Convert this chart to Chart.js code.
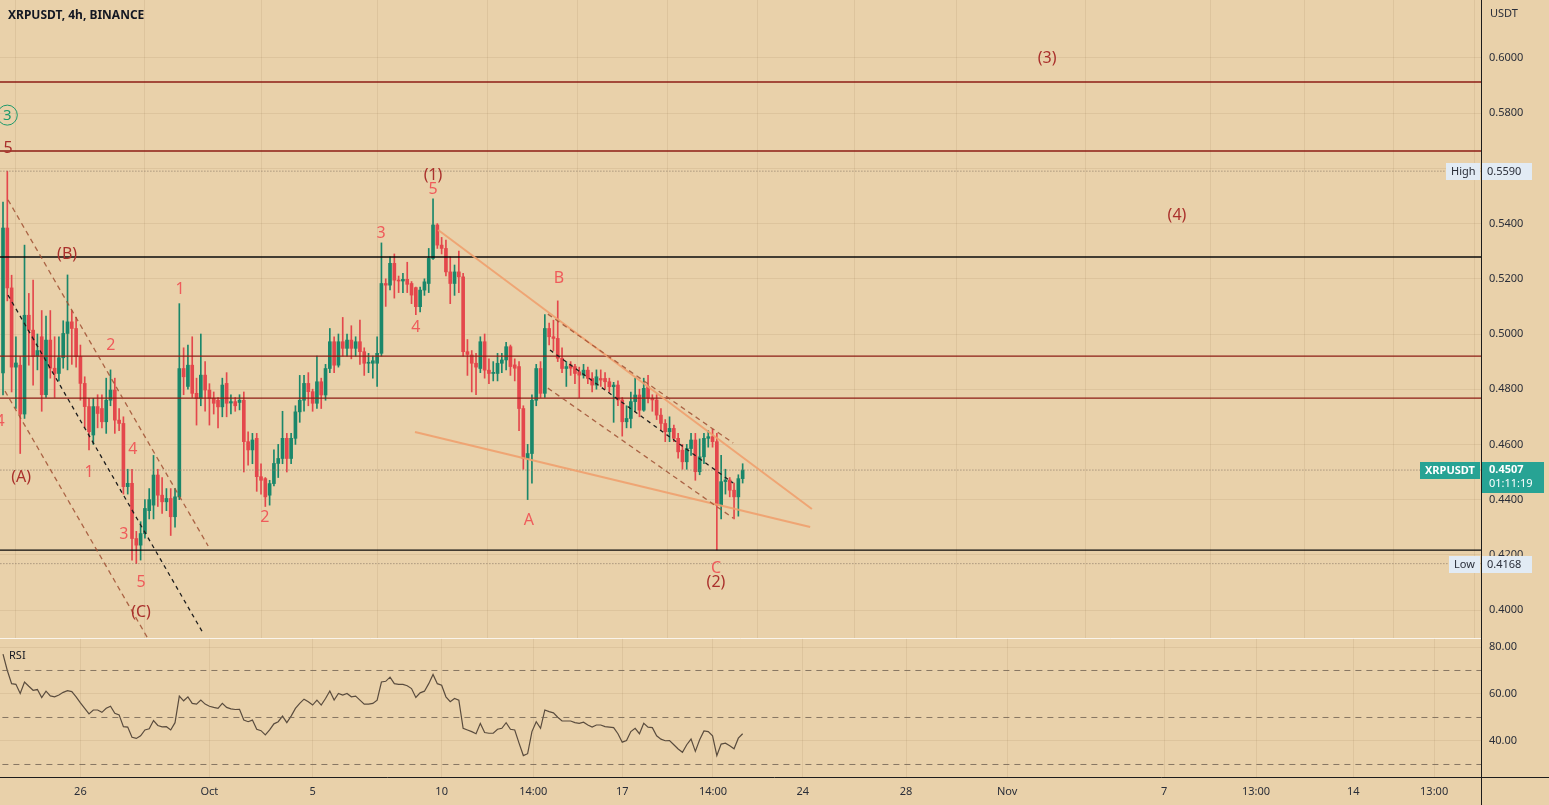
<!DOCTYPE html>
<html>
<head>
<meta charset="utf-8">
<title>XRPUSDT 4h</title>
<script src="https://cdn.jsdelivr.net/npm/chart.js@4.4.0/dist/chart.umd.min.js"></script>
<style>
  html, body { margin: 0; padding: 0; background: #e9d1aa; overflow: hidden; }
  #pricePane { position: absolute; left: 0; top: 0; width: 1549px; height: 638px; }
  #rsiPane { position: absolute; left: 0; top: 638px; width: 1549px; height: 167px; }
</style>
</head>
<body>
<div id="pricePane"><canvas id="priceChart"></canvas></div>
<div id="rsiPane"><canvas id="rsiChart"></canvas></div>
<script>
// 4h candles, XRPUSDT Binance, index 0 = first candle on screen
const opens = [
  .4859,.5384,.5167,.4880,.4887,.4710,.5068,.5014,.4920,.4990,
  .4780,.4978,.4876,.4857,.4914,.5002,.5044,.5020,.4918,.4821,
  .4737,.4634,.4737,.4730,.4682,.4760,.4797,.4688,.4676,.4447,
  .4459,.4259,.4235,.4277,.4360,.4380,.4489,.4416,.4392,.4404,
  .4338,.4410,.4875,.4810,.4887,.4785,.4767,.4851,.4797,.4767,
  .4760,.4736,.4821,.4750,.4755,.4752,.4760,
  .4610,.4580,.4622,.4483,.4476,.4416,.4458,.4531,.4549,.4622,
  .4549,.4622,.4718,.4760,.4821,.4791,.4749,.4827,.4779,.4875,
  .4972,.4887,.4972,.4948,.4978,.4948,.4972,.4936,.4894,.4894,
  .4894,.4930,.5183,.5177,.5256,.5195,.5192,.5198,.5183,.5168,
  .5099,.5159,.5183,.5274,.5395,.5322,.5310,.5225,.5183,.5225,
  .5207,.4936,.4924,.4894,.4875,.4972,.4869,
  .4857,.4857,.4894,.4906,.4954,.4888,.4882,.4730,.4549,.4567,
  .4760,.4875,.4785,.5020,.4990,.4984,.4912,.4875,.4888,.4882,
  .4863,.4851,.4869,.4839,.4815,.4839,.4839,.4827,.4809,.4815,
  .4761,.4682,.4694,.4755,.4779,.4724,.4809,.4767,.4761,.4706,
  .4676,.4646,.4658,.4622,.4579,.4537,.4585,.4616,.4501,.4555,
  .4622,.4628,.4610,.4380,.4465,.4471,.4434,.4410,.4476
];
const highs = [
  .5478,.5590,.5213,.4990,.4918,.5322,.5147,.5195,.5000,.5085,
  .5065,.5085,.4990,.4990,.5048,.5214,.5085,.5060,.4960,.4845,
  .4767,.4767,.4780,.4780,.4840,.4870,.4840,.4730,.4700,.4510,
  .4510,.4285,.4320,.4400,.4440,.4560,.4510,.4480,.4440,.4440,
  .4440,.5110,.4950,.4960,.4990,.4840,.5000,.4900,.4820,.4790,
  .4770,.4840,.4860,.4780,.4770,.4780,.4790,
  .4646,.4640,.4640,.4530,.4480,.4470,.4580,.4600,.4720,.4640,
  .4640,.4740,.4850,.4850,.4860,.4800,.4920,.4840,.4890,.5020,
  .4990,.5000,.5060,.5000,.5030,.4990,.5050,.4950,.4930,.4920,
  .4990,.5330,.5200,.5280,.5290,.5210,.5220,.5260,.5190,.5170,
  .5170,.5200,.5310,.5490,.5400,.5350,.5340,.5280,.5250,.5300,
  .5220,.4980,.4940,.4930,.4990,.5000,.4910,
  .4900,.4930,.4930,.4970,.4960,.4910,.4900,.4740,.4600,.4780,
  .4890,.4900,.5070,.5040,.5050,.5120,.4950,.4900,.4900,.4890,
  .4880,.4890,.4880,.4860,.4870,.4870,.4860,.4840,.4825,.4830,
  .4770,.4740,.4790,.4840,.4800,.4840,.4850,.4780,.4780,.4730,
  .4690,.4700,.4670,.4640,.4600,.4600,.4640,.4640,.4620,.4640,
  .4650,.4655,.4640,.4560,.4510,.4480,.4460,.4490,.4530
];
const lows = [
  .4779,.5120,.4790,.4730,.4567,.4694,.4887,.4815,.4870,.4720,
  .4770,.4840,.4770,.4830,.4876,.4870,.4890,.4880,.4760,.4660,
  .4580,.4600,.4660,.4660,.4640,.4740,.4640,.4650,.4420,.4420,
  .4181,.4168,.4181,.4260,.4330,.4330,.4375,.4350,.4360,.4270,
  .4300,.4400,.4780,.4800,.4770,.4670,.4740,.4720,.4670,.4710,
  .4660,.4700,.4700,.4710,.4720,.4725,.4500,
  .4525,.4530,.4430,.4420,.4375,.4380,.4450,.4480,.4530,.4500,
  .4530,.4600,.4680,.4720,.4740,.4720,.4730,.4730,.4760,.4860,
  .4860,.4880,.4920,.4920,.4910,.4920,.4890,.4850,.4860,.4840,
  .4810,.4920,.5100,.5160,.5130,.5150,.5150,.5150,.5110,.5070,
  .5080,.5140,.5150,.5270,.5310,.5290,.5210,.5110,.5140,.5150,
  .4920,.4850,.4790,.4780,.4860,.4840,.4820,
  .4830,.4830,.4860,.4870,.4850,.4830,.4650,.4510,.4400,.4460,
  .4740,.4770,.4770,.4960,.4940,.4900,.4860,.4810,.4850,.4820,
  .4770,.4840,.4820,.4790,.4800,.4810,.4800,.4790,.4680,.4740,
  .4630,.4660,.4660,.4720,.4700,.4720,.4750,.4720,.4690,.4650,
  .4610,.4610,.4610,.4550,.4510,.4510,.4560,.4470,.4490,.4530,
  .4590,.4590,.4218,.4330,.4420,.4410,.4330,.4340,.4460
];
const closes = [
  .5384,.5167,.4880,.4895,.4710,.5068,.5014,.4918,.4940,.4780,
  .4978,.4876,.4857,.4914,.5002,.5044,.5020,.4918,.4821,.4737,
  .4646,.4737,.4712,.4682,.4760,.4797,.4688,.4676,.4447,.4459,
  .4259,.4235,.4277,.4368,.4400,.4489,.4416,.4392,.4404,.4338,
  .4410,.4875,.4845,.4887,.4785,.4767,.4851,.4797,.4767,.4749,
  .4736,.4815,.4749,.4755,.4740,.4760,.4610,
  .4580,.4616,.4483,.4470,.4410,.4458,.4531,.4549,.4622,.4549,
  .4622,.4718,.4760,.4821,.4791,.4749,.4827,.4779,.4875,.4972,
  .4887,.4972,.4948,.4978,.4948,.4972,.4936,.4894,.4896,.4903,
  .4930,.5183,.5177,.5256,.5195,.5192,.5198,.5180,.5141,.5099,
  .5159,.5189,.5274,.5395,.5322,.5310,.5225,.5183,.5225,.5207,
  .4936,.4926,.4894,.4880,.4972,.4869,.4857,
  .4861,.4894,.4906,.4954,.4882,.4876,.4730,.4549,.4567,.4760,
  .4875,.4785,.5020,.4990,.4984,.4912,.4875,.4882,.4876,.4857,
  .4851,.4869,.4839,.4815,.4845,.4833,.4827,.4809,.4815,.4761,
  .4682,.4694,.4755,.4779,.4724,.4803,.4767,.4761,.4706,.4676,
  .4646,.4658,.4622,.4573,.4537,.4585,.4616,.4501,.4555,.4622,
  .4628,.4610,.4380,.4465,.4471,.4434,.4410,.4476,.4507
];
const rsi = [
  77.0,70.0,64.4,64.1,60.2,65.1,63.3,61.6,61.9,58.5,
  61.2,59.2,58.8,59.6,60.7,61.4,61.0,58.8,56.2,53.9,
  51.5,53.2,53.2,52.2,53.9,54.8,51.8,51.1,46.1,45.9,
  41.6,41.1,42.2,44.7,45.2,48.7,46.6,46.0,46.1,44.7,
  47.8,59.1,57.1,58.8,56.0,55.7,57.4,55.7,54.8,54.3,
  53.9,56.0,54.3,53.7,53.4,53.5,48.9,48.2,48.9,45.0,
  44.4,42.6,44.7,47.3,48.2,50.6,47.8,50.6,53.9,56.0,
  57.8,56.7,55.3,57.4,55.3,58.1,61.3,57.4,60.2,59.5,
  60.2,58.8,59.1,57.4,55.7,55.7,56.0,57.4,65.1,65.4,
  67.2,64.4,64.1,64.1,63.5,62.3,58.5,60.5,61.2,64.4,
  68.3,64.4,63.7,58.8,56.7,58.1,57.4,45.4,44.7,44.0,
  43.1,47.5,43.6,43.3,43.3,45.0,45.4,47.8,45.0,44.7,
  39.1,33.8,34.6,44.0,48.2,45.4,53.2,52.5,52.0,50.1,
  48.5,48.5,48.5,47.8,47.5,48.0,46.8,45.9,46.8,46.8,
  46.1,45.9,45.7,43.1,39.5,40.2,44.0,45.4,43.1,47.5,
  45.9,45.7,42.2,40.8,40.1,40.2,38.4,36.6,35.2,38.4,
  40.8,35.6,40.5,44.3,44.0,42.2,33.8,38.7,39.1,38.0,
  36.7,41.2,43.1
];

// time axis labels (position in candle units)
const tickPos = [18, 48, 72, 102, 123.3, 144, 165.1, 186, 210, 233.5, 270, 291.4, 314, 332.8];
const tickLabels = ["26", "Oct", "5", "10", "14:00", "17", "14:00", "24", "28", "Nov", "7", "13:00", "14", "13:00"];
const priceTicks = [0.40, 0.42, 0.44, 0.46, 0.48, 0.50, 0.52, 0.54, 0.56, 0.58, 0.60];
const rsiTicks = [40, 60, 80];
const rsiBands = [70, 50, 30];

// drawn levels
const redLevels = [0.5913, 0.5663, 0.4920, 0.4768];
const blackLevels = [0.5279, 0.4217];

// trend lines: [index1, price1, index2, price2]
const brownDashed = [[1.16, 0.5486, 47.7, 0.4232], [0.47, 0.4793, 33.5, 0.3902],
                     [126.7, 0.5072, 169.8, 0.4605], [126.7, 0.4804, 169.8, 0.4333]];
const blackDashed = [[1.16, 0.5141, 46.5, 0.3917], [127.2, 0.4942, 169.8, 0.4460]];
const wedgeLines = [[101.2, 0.5377, 188.1, 0.4366], [95.8, 0.4645, 187.7, 0.4301]];

// elliott wave labels
const waveText = ["3", "5", "(B)", "4", "(A)", "1", "2", "4", "3", "5", "(C)", "1", "2", "3", "4", "(1)", "5", "B", "A", "C", "(2)", "(3)", "(4)"];
const waveIdx = [1, 1.2, 14.9, -0.7, 4.2, 20, 25.1, 30.2, 28.1, 32.1, 32.1, 41.2, 60.9, 87.9, 96, 100, 100, 129.3, 122.3, 165.8, 165.8, 242.8, 273];
const wavePrice = [0.5793, 0.5674, 0.5290, 0.4685, 0.4482, 0.4500, 0.4957, 0.4580, 0.4272, 0.4101, 0.3990, 0.5160, 0.4337, 0.5366, 0.5022, 0.5576, 0.5525, 0.5203, 0.4326, 0.4152, 0.4101, 0.6000, 0.5431];
const waveDegree = [0, 1, 1, 2, 1, 2, 2, 2, 2, 2, 1, 2, 2, 2, 2, 1, 2, 2, 2, 2, 1, 1, 1];

const X_MIN = -0.7, X_MAX = 343.7;
const FONT = "'Noto Sans', 'Open Sans', sans-serif";
const BG = '#e9d1aa';
const UP = '#1a876a', DOWN = '#e4474c';
const GRID = 'rgba(120,90,50,0.10)';

Chart.defaults.font.family = FONT;
Chart.defaults.color = '#2a2e39';

const candleColors = closes.map((c, i) => c >= opens[i] ? UP : DOWN);

function hline(v, color, dash, width) {
  return {
    type: 'line', data: [{x: X_MIN - 2, y: v}, {x: X_MAX + 2, y: v}],
    borderColor: color, borderWidth: width || 1, borderDash: dash || [], pointRadius: 0, order: 1
  };
}
function seg(s, color, dash, width) {
  return {
    type: 'line', data: [{x: s[0], y: s[1]}, {x: s[2], y: s[3]}],
    borderColor: color, borderWidth: width, borderDash: dash || [], pointRadius: 0, order: 0
  };
}

const lastClose = closes[closes.length - 1];
const highMark = Math.max(...highs);
const lowMark = Math.min(...lows);

const priceSets = [];
redLevels.forEach(v => priceSets.push(hline(v, '#8c1c14', [], 1.3)));
blackLevels.forEach(v => priceSets.push(hline(v, '#0a0a0a', [], 1.3)));
[highMark, lastClose, lowMark].forEach(v => priceSets.push(hline(v, '#8a7866', [1, 2])));
brownDashed.forEach(s => priceSets.push(seg(s, 'rgba(160,80,50,0.85)', [5, 4], 1.3)));
blackDashed.forEach(s => priceSets.push(seg(s, '#1e1e1e', [4, 4], 1.3)));
wedgeLines.forEach(s => priceSets.push(seg(s, 'rgba(240,160,110,0.9)', [], 2)));

priceSets.push({
  type: 'bar', label: 'wicks',
  data: opens.map((o, i) => ({x: i, y: [lows[i], highs[i]]})),
  backgroundColor: candleColors, barThickness: 1, grouped: false, order: 3
});
priceSets.push({
  type: 'bar', label: 'bodies',
  data: opens.map((o, i) => ({x: i, y: [Math.min(o, closes[i]), Math.max(o, closes[i])]})),
  backgroundColor: candleColors, barThickness: 3, minBarLength: 1, grouped: false, order: 2
});

const bgPlugin = {
  id: 'bg',
  beforeDraw(c) {
    const ctx = c.ctx;
    ctx.save();
    ctx.fillStyle = BG;
    ctx.fillRect(0, 0, c.width, c.height);
    ctx.restore();
  }
};

const wavePlugin = {
  id: 'waves',
  afterDatasetsDraw(c) {
    const ctx = c.ctx, xs = c.scales.x, ys = c.scales.y;
    ctx.save();
    ctx.textAlign = 'center';
    ctx.textBaseline = 'middle';
    waveText.forEach((t, i) => {
      const px = xs.getPixelForValue(waveIdx[i]);
      const py = ys.getPixelForValue(wavePrice[i]);
      const d = waveDegree[i];
      if (d === 0) {
        ctx.strokeStyle = '#1f9a6c';
        ctx.lineWidth = 1;
        ctx.beginPath();
        ctx.arc(px, py, 10, 0, Math.PI * 2);
        ctx.stroke();
        ctx.fillStyle = '#1f9a6c';
        ctx.font = '15px ' + FONT;
        ctx.fillText(t, px, py + 1);
      } else {
        ctx.fillStyle = d === 1 ? '#aa302c' : '#ef5b5b';
        ctx.font = '16px ' + FONT;
        ctx.fillText(t, px, py);
      }
    });
    // title
    ctx.textAlign = 'left';
    ctx.fillStyle = '#131722';
    ctx.font = 'bold 12px ' + FONT;
    ctx.fillText('XRPUSDT, 4h, BINANCE', 8, 16);
    ctx.restore();
  }
};

function tag(ctx, x, y, w, h, fill, text, color, font) {
  ctx.fillStyle = fill;
  ctx.fillRect(x, y, w, h);
  ctx.fillStyle = color;
  ctx.font = font;
  ctx.fillText(text, x + 5, y + h / 2 + 0.5);
}

const tagPlugin = {
  id: 'tags',
  afterDraw(c) {
    const ctx = c.ctx, ys = c.scales.y, r = c.chartArea.right;
    ctx.save();
    ctx.textBaseline = 'middle';
    ctx.textAlign = 'left';
    ctx.fillStyle = '#2a2e39';
    ctx.font = '11px ' + FONT;
    ctx.fillText('USDT', r + 9, 14);

    const light = '#e2ebf4';
    const f = '11px ' + FONT;
    let y = Math.round(ys.getPixelForValue(highMark));
    tag(ctx, r - 35, y - 8, 34, 17, light, 'High', '#2a2e39', f);
    tag(ctx, r + 1, y - 8, 50, 17, light, highMark.toFixed(4), '#2a2e39', f);
    y = Math.round(ys.getPixelForValue(lowMark));
    tag(ctx, r - 32, y - 8, 31, 17, light, 'Low', '#2a2e39', f);
    tag(ctx, r + 1, y - 8, 50, 17, light, lowMark.toFixed(4), '#2a2e39', f);

    y = Math.round(ys.getPixelForValue(lastClose));
    const teal = '#27a394';
    tag(ctx, r - 61, y - 8, 60, 17, teal, 'XRPUSDT', '#ffffff', 'bold 11px ' + FONT);
    ctx.fillStyle = teal;
    ctx.fillRect(r + 1, y - 8, 62, 31);
    ctx.fillStyle = '#ffffff';
    ctx.font = 'bold 11px ' + FONT;
    ctx.fillText(lastClose.toFixed(4), r + 8, y);
    ctx.font = '11px ' + FONT;
    ctx.fillText('01:11:19', r + 8, y + 14);

    ctx.strokeStyle = '#1c1c1c';
    ctx.lineWidth = 1;
    ctx.beginPath();
    ctx.moveTo(r + 0.5, 0);
    ctx.lineTo(r + 0.5, c.height);
    ctx.stroke();
    ctx.restore();
  }
};

new Chart(document.getElementById('priceChart'), {
  type: 'bar',
  data: { datasets: priceSets },
  options: {
    responsive: true,
    maintainAspectRatio: false,
    animation: false,
    layout: { padding: 0 },
    plugins: { legend: { display: false }, tooltip: { enabled: false } },
    scales: {
      x: {
        type: 'linear', min: X_MIN, max: X_MAX, offset: false,
        afterBuildTicks: ax => { ax.ticks = tickPos.map(v => ({value: v})); },
        ticks: { display: false },
        grid: { color: GRID, drawTicks: false },
        border: { display: false },
        afterFit: s => { s.height = 0; s.paddingLeft = 0; s.paddingRight = 0; }
      },
      y: {
        position: 'right', min: 0.38986, max: 0.62101,
        afterBuildTicks: ax => { ax.ticks = priceTicks.map(v => ({value: v})); },
        ticks: { callback: v => v.toFixed(4), color: '#2a2e39', font: { size: 11 }, padding: 8 },
        grid: { color: GRID, drawTicks: false },
        border: { display: false },
        afterFit: s => { s.width = 68; s.paddingTop = 0; s.paddingBottom = 0; }
      }
    }
  },
  plugins: [bgPlugin, wavePlugin, tagPlugin]
});

// RSI pane
const rsiSets = rsiBands.map(v => ({
  type: 'line', data: [{x: X_MIN - 2, y: v}, {x: X_MAX + 2, y: v}],
  borderColor: 'rgba(110,95,80,0.8)', borderWidth: 1, borderDash: [6, 5], pointRadius: 0
}));
rsiSets.push({
  type: 'line', label: 'RSI',
  data: rsi.map((v, i) => ({x: i, y: v})),
  borderColor: '#5a4c3e', borderWidth: 1.2, pointRadius: 0, tension: 0
});

const rsiFrame = {
  id: 'rsiFrame',
  afterDraw(c) {
    const ctx = c.ctx, a = c.chartArea;
    ctx.save();
    ctx.strokeStyle = 'rgba(255,255,255,0.75)';
    ctx.lineWidth = 1;
    ctx.beginPath();
    ctx.moveTo(0, 0.5);
    ctx.lineTo(a.right, 0.5);
    ctx.stroke();
    ctx.strokeStyle = '#1c1c1c';
    ctx.beginPath();
    ctx.moveTo(0, a.bottom + 0.5);
    ctx.lineTo(c.width, a.bottom + 0.5);
    ctx.moveTo(a.right + 0.5, 0);
    ctx.lineTo(a.right + 0.5, c.height);
    ctx.stroke();
    ctx.fillStyle = '#131722';
    ctx.font = '11px ' + FONT;
    ctx.textBaseline = 'middle';
    ctx.fillText('RSI', 9, 18);
    ctx.restore();
  }
};

new Chart(document.getElementById('rsiChart'), {
  type: 'line',
  data: { datasets: rsiSets },
  options: {
    responsive: true,
    maintainAspectRatio: false,
    animation: false,
    layout: { padding: 0 },
    plugins: { legend: { display: false }, tooltip: { enabled: false } },
    scales: {
      x: {
        type: 'linear', min: X_MIN, max: X_MAX, offset: false,
        afterBuildTicks: ax => { ax.ticks = tickPos.map(v => ({value: v})); },
        ticks: { callback: (v, i) => tickLabels[i], color: '#2a2e39', font: { size: 11 }, padding: 8, maxRotation: 0, autoSkip: false },
        grid: { color: GRID, drawTicks: false },
        border: { display: false },
        afterFit: s => { s.height = 28; s.paddingLeft = 0; s.paddingRight = 0; }
      },
      y: {
        position: 'right', min: 24.68, max: 83.83,
        afterBuildTicks: ax => { ax.ticks = rsiTicks.map(v => ({value: v})); },
        ticks: { callback: v => v.toFixed(2), color: '#2a2e39', font: { size: 11 }, padding: 8 },
        grid: { color: GRID, drawTicks: false },
        border: { display: false },
        afterFit: s => { s.width = 68; s.paddingTop = 0; s.paddingBottom = 0; }
      }
    }
  },
  plugins: [bgPlugin, rsiFrame]
});
</script>
</body>
</html>
